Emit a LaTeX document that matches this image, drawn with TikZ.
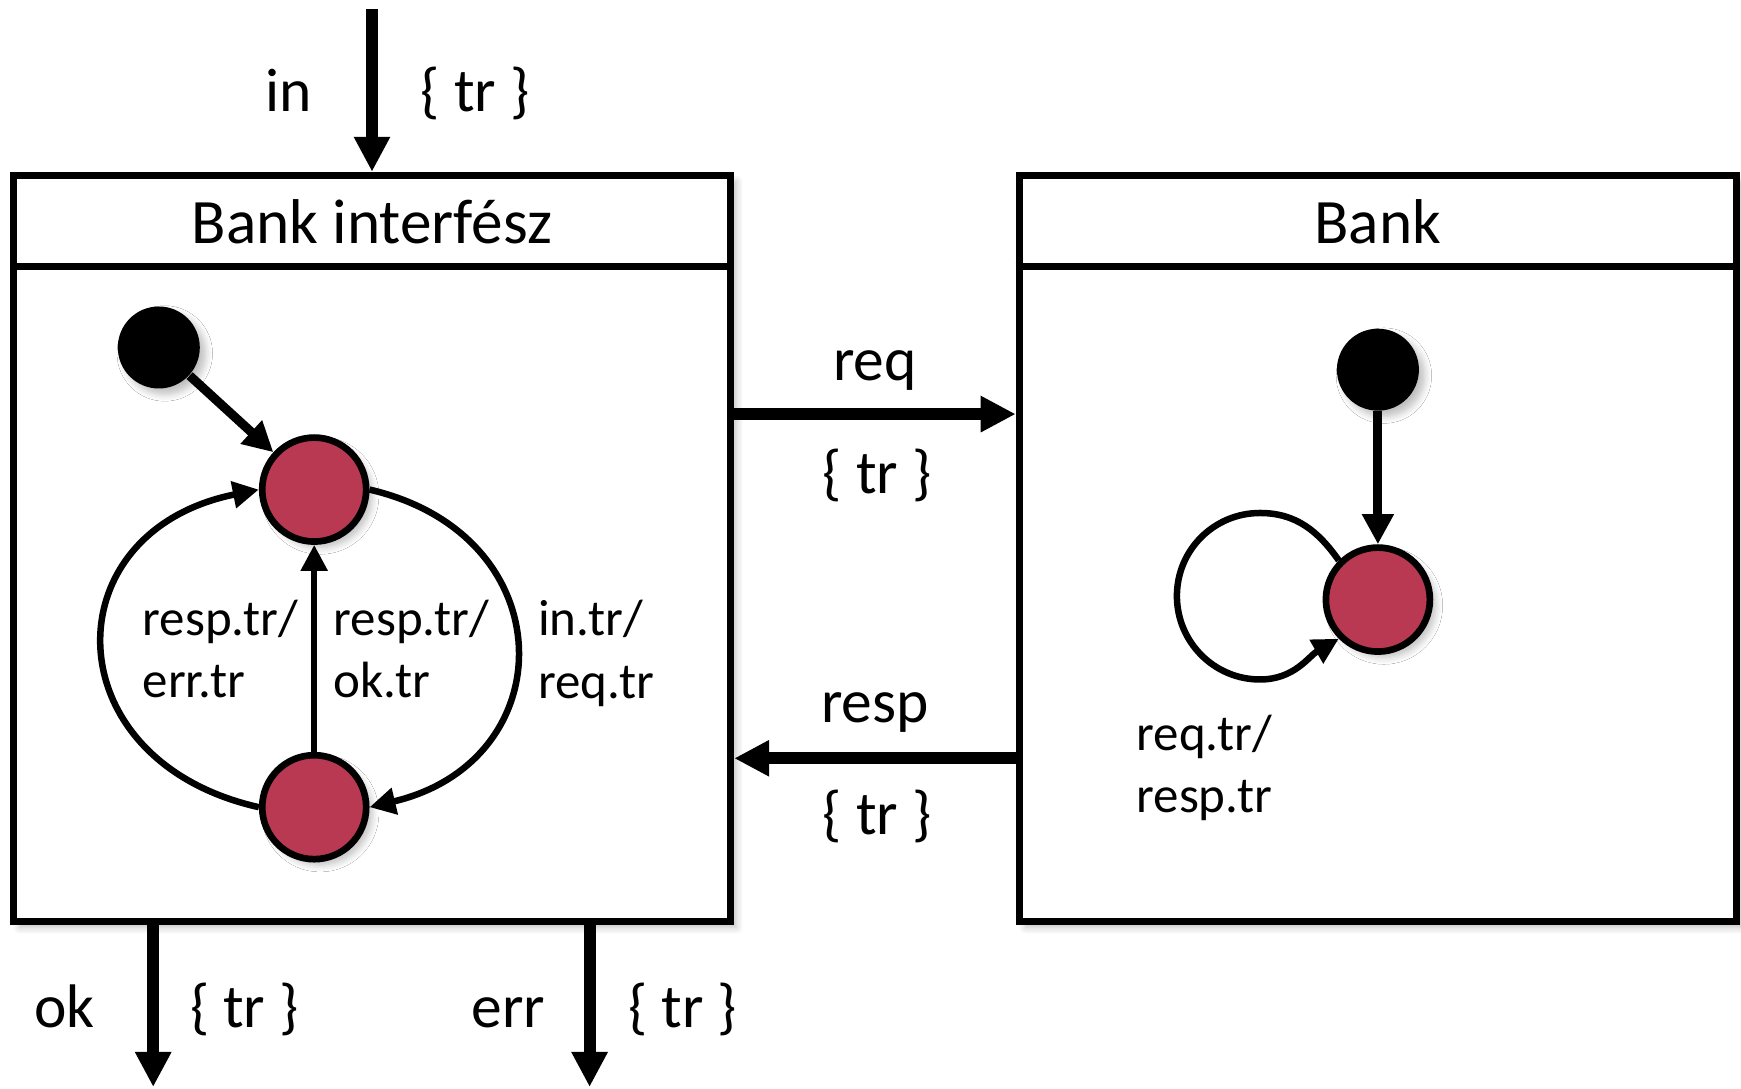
\documentclass[tikz,border=0pt]{standalone}
\usepackage{fontspec}
\setmainfont{Carlito}
\usetikzlibrary{arrows.meta}
\usetikzlibrary{calc}
\usetikzlibrary{shadows.blur}
\definecolor{statered}{RGB}{185,57,82}

\begin{document}
\begin{tikzpicture}[
    softshadow/.style={blur shadow={shadow blur steps=6, shadow xshift=0.6mm, shadow yshift=-0.6mm, shadow opacity=25}},
    box/.style={draw, line width=2.1pt, rectangle, minimum width=7.17cm, minimum height=7.46cm, inner sep=0pt, fill=white, softshadow},
    port/.style={line width=3.4pt, -{Triangle[length=0.35cm,width=0.34cm]}},
    trans/.style={line width=1.85pt, -{Triangle[length=0.26cm,width=0.26cm]}},
    state/.style={circle, draw, line width=1.9pt, fill=statered, minimum size=1.04cm, inner sep=0pt, softshadow},
    init/.style={circle, fill=black, minimum size=0.82cm, inner sep=0pt, softshadow},
    lbl/.style={font=\fontsize{17.5}{21}\selectfont, anchor=base},
    guard/.style={font=\fontsize{14.5}{17.8}\selectfont, align=left, anchor=west, inner xsep=0pt}
]
    \useasboundingbox (0,0) rectangle (17.41,10.89);

    % Draw the two components
    \node[box] (lbox) at (3.72,5.405) {};
    \node[box] (bbox) at (13.779,5.405) {};
    \draw[line width=2.1pt] (lbox.west |- 0,8.225) -- (lbox.east |- 0,8.225);
    \draw[line width=2.1pt] (bbox.west |- 0,8.225) -- (bbox.east |- 0,8.225);
    \node[font=\fontsize{18}{22}\selectfont, anchor=base] (ltitle) at (3.72,8.45) {Bank interfész};
    \node[font=\fontsize{18}{22}\selectfont, anchor=base] (btitle) at (13.779,8.45) {Bank};

%Ports in and out
    \coordinate (intop) at (3.72,10.80);
    \coordinate (okend) at (1.532,0.02);
    \coordinate (errend) at (5.896,0.02);
    \draw[port] (intop) -- (lbox.north);
    \draw[port] (lbox.south -| okend) -- (okend);
    \draw[port] (lbox.south -| errend) -- (errend);
    \draw[port] (lbox.east |- 0,6.749) -- (bbox.west |- 0,6.749);
    \draw[port] (bbox.west |- 0,3.307) -- (lbox.east |- 0,3.307);

    \node[lbl] (inlbl) at (2.887,9.77) {in};
    \node[lbl] (intr) at (4.752,9.77) {\{ tr \}};
    \node[lbl] (oklbl) at (0.644,0.61) {ok};
    \node[lbl] (oktr) at (2.443,0.61) {\{ tr \}};
    \node[lbl] (errlbl) at (5.085,0.61) {err};
    \node[lbl] (errtr) at (6.828,0.61) {\{ tr \}};
    \node[lbl] (reqlbl) at (8.749,7.08) {req};
    \node[lbl] (reqtr) at (8.771,5.95) {\{ tr \}};
    \node[lbl] (resplbl) at (8.749,3.66) {resp};
    \node[lbl] (resptr) at (8.771,2.54) {\{ tr \}};

%Interface state machine
    \node[init] (linit) at (1.588,7.415) {};
    \node[state] (idle) at (3.142,5.994) {};
    \node[state] (wait) at (3.142,2.818) {};
    \draw[line width=2.6pt, -{Triangle[length=0.3cm,width=0.3cm]}] (linit) -- (idle);
    \draw[trans] (wait.west) .. controls (0.526,3.281) and (0.504,5.575) .. (idle.west);
    \draw[trans] (idle.east) .. controls (5.649,5.542) and (5.645,3.280) .. (wait.east);
    \draw[trans, line width=1.6pt] (wait) -- (idle);
    \node[guard] (g1) at (1.421,4.40) {resp.tr/\\err.tr};
    \node[guard] (g2) at (3.331,4.40) {resp.tr/\\ok.tr};
    \node[guard] (g3) at (5.374,4.355) {in.tr/\\req.tr};

%Bank state machine
    \node[init] (binit) at (13.779,7.193) {};
    \node[state] (serve) at (13.779,4.894) {};
    \draw[line width=2.6pt, -{Triangle[length=0.3cm,width=0.3cm]}] (binit) -- (serve);
    \draw[trans] (serve.135) to[out=125,in=0] (12.60,5.76) to[out=180,in=90] (11.769,4.93)
        to[out=270,in=180] (12.60,4.095) to[out=0,in=210] (serve.225);
    \node[guard] (g4) at (11.358,3.21) {req.tr/\\resp.tr};

\end{tikzpicture}
\end{document}
